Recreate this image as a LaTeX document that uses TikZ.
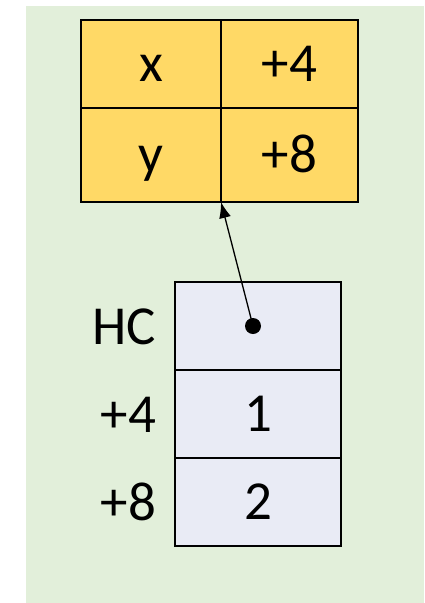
\documentclass[tikz,border=0pt]{standalone}
\usepackage{fontspec}
\setmainfont{Carlito}
\usetikzlibrary{arrows.meta}
\definecolor{bggreen}{HTML}{E2EFDA}
\definecolor{cellyellow}{HTML}{FFD966}
\definecolor{cellblue}{HTML}{E9EBF5}
\begin{document}
\begin{tikzpicture}[x=1pt,y=-1pt,
  every node/.style={inner sep=0pt,outer sep=0pt,font=\fontsize{55}{65}\selectfont,text height=35pt,text depth=0pt},
  ycell/.style={draw=black,line width=2.8pt,fill=cellyellow,anchor=north west},
  bcell/.style={draw=black,line width=2.4pt,fill=cellblue,anchor=north west,minimum width=166pt,minimum height=88pt},
  lbl/.style={anchor=east},
  ptr/.style={line width=1.3pt,-{Latex[length=16pt,width=12pt]}}
]
\useasboundingbox (0,0) rectangle (424,603);
\fill[bggreen] (26,6) rectangle (424,603);
% top table
\node[ycell,minimum width=140pt,minimum height=88pt] (xl) at (81,20) {x};
\node[ycell,minimum width=137pt,minimum height=88pt] (xr) at (221,20) {+4};
\node[ycell,minimum width=140pt,minimum height=94pt] (yl) at (81,108) {y};
\node[ycell,minimum width=137pt,minimum height=94pt] (yr) at (221,108) {+8};
% bottom box
\node[bcell] (hc) at (175,282) {};
\node[bcell] (one) at (175,370) {1};
\node[bcell] (two) at (175,458) {2};
% labels
\node[lbl] (lhc) at (156,327) {HC};
\node[lbl] (l4) at (156,415) {+4};
\node[lbl] (l8) at (156,503) {+8};
% pointer
\node[circle,fill=black,minimum size=16pt,text height=,text depth=] (dot) at (253,326) {};
\draw[ptr] (dot.center) -- (yl.south east);
\end{tikzpicture}
\end{document}
